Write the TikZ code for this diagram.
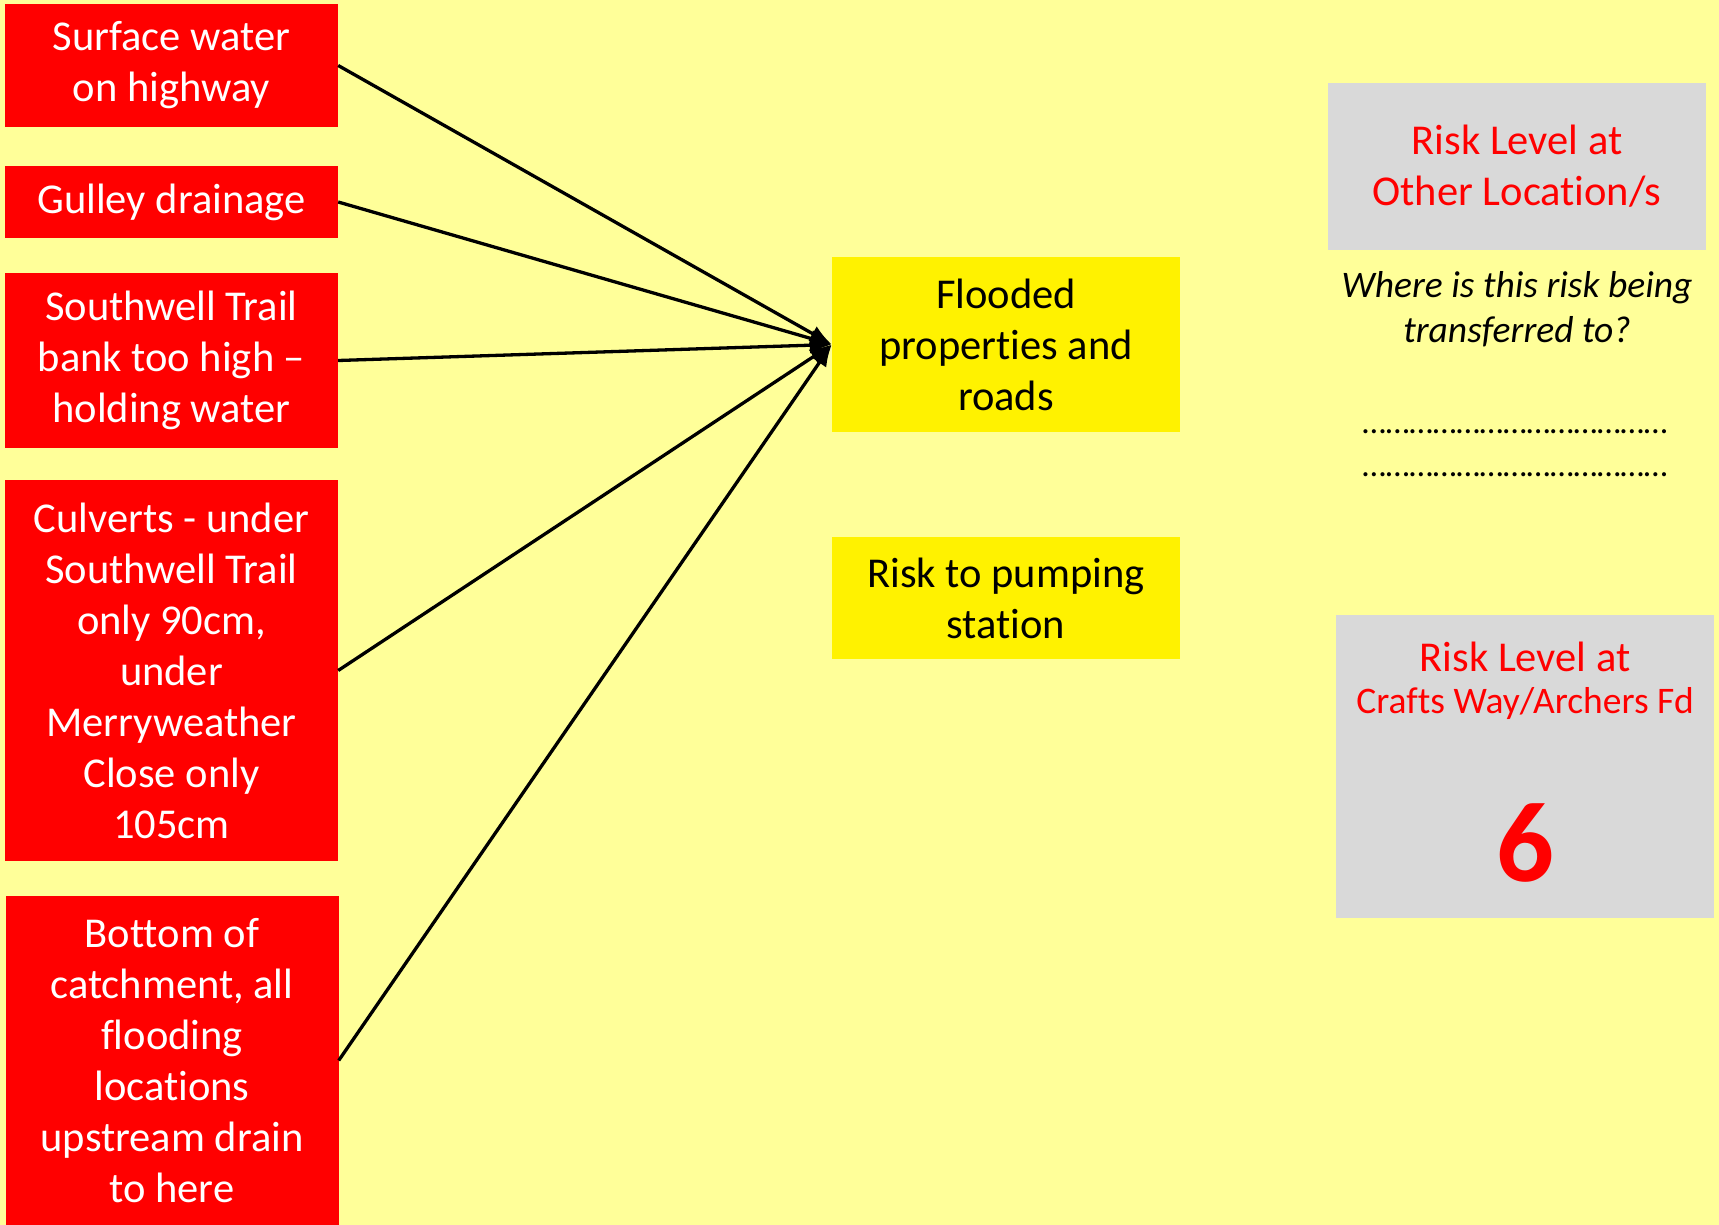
\documentclass[tikz,border=0pt]{standalone}
\usepackage{fontspec}
\setmainfont{Carlito}[Ligatures=NoCommon]
\usepackage{xcolor}
\usetikzlibrary{arrows.meta}
\definecolor{paleyellow}{HTML}{FFFF99}
\definecolor{boxgray}{HTML}{D9D9D9}
\newcommand{\bigtext}{\fontsize{42.5}{51}\selectfont}

\begin{document}
\begin{tikzpicture}[x=1pt, y=-1pt,
  every node/.style={inner sep=0pt, align=center},
  cause/.style={fill=red, text=white, minimum width=333pt, font=\bigtext},
  effect/.style={fill=yellow, text=black, minimum width=348pt, font=\bigtext},
  level/.style={fill=boxgray, minimum width=378pt},
  flow/.style={line width=3.3pt, -{Latex[length=22pt, width=17pt]}}]
\fill[paleyellow] (0,0) rectangle (1719,1225);
\useasboundingbox (0,0) rectangle (1719,1225);
% Causes
\node[cause, minimum height=123pt] (surface) at (171.5,65.5) {Surface water\\on highway};
\node[cause, minimum height=72pt] (gulley) at (171.5,202) {Gulley drainage};
\node[cause, minimum height=175pt] (bank) at (171.5,360.5) {Southwell Trail\\bank too high --\\holding water};
\node[cause, minimum height=381pt] (culverts) at (171.5,670.5) {Culverts - under\\Southwell Trail\\only 90cm,\\under\\Merryweather\\Close only\\105cm};
\node[cause, minimum height=329pt] (bottom) at (172,1060.5) {Bottom of\\catchment, all\\flooding\\locations\\upstream drain\\to here};
% Effects
\node[effect, minimum height=175pt] (flooded) at (1006,344.5) {Flooded\\properties and\\roads};
\node[effect, minimum height=122pt] (pumping) at (1006,598) {Risk to pumping\\station};
% Risk levels
\node[level, minimum height=167pt, text=red, font=\bigtext] (other) at (1517,166.5) {Risk Level at\\Other Location/s};
\node[font=\fontsize{37.5}{45}\selectfont\itshape] (question) at (1517,309) {Where is this risk being\\transferred to?};
\node[font=\fontsize{34}{45}\selectfont] (dots1) at (1515,432) {…………………………………};
\node[font=\fontsize{34}{45}\selectfont] (dots2) at (1515,475) {…………………………………};
\node[level, minimum height=303pt] (crafts) at (1525,766.5) {};
\node[text=red, font=\bigtext] (craftstitle) at (1525,657) {Risk Level at};
\node[text=red, font=\fontsize{37.5}{45}\selectfont] (craftsname) at (1525,703) {Crafts Way/Archers Fd};
\node[text=red, font=\fontsize{114}{130}\selectfont\bfseries] (craftsscore) at (1525,843) {6};
% Connectors
\draw[flow] (surface.east) -- (flooded.west);
\draw[flow] (gulley.east) -- (flooded.west);
\draw[flow] (bank.east) -- (flooded.west);
\draw[flow] (culverts.east) -- (flooded.west);
\draw[flow] (bottom.east) -- (flooded.west);
\end{tikzpicture}
\end{document}
